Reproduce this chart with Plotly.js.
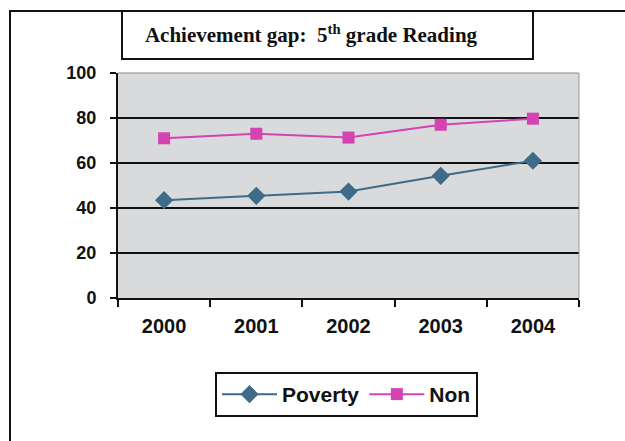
<!DOCTYPE html>
<html>
<head>
<meta charset="utf-8">
<script src="https://cdn.plot.ly/plotly-3.0.1.min.js"></script>
<style>html,body{margin:0;padding:0;background:#fff;}#chart{width:625px;height:441px;}</style>
</head>
<body>
<div id="chart"></div>
<script>
const years = ["2000", "2001", "2002", "2003", "2004"];
const poverty = [43.5, 45.4, 47.3, 54.3, 61];
const non = [71, 73, 71.3, 77, 79.7];
const yTicks = [0, 20, 40, 60, 80, 100];
const titleText = "Achievement gap:  5<sup>th</sup> grade Reading";

const L = 118, R = 579, T = 73, B = 298, W = 625, H = 441;
const px = x => (x - L) / (R - L);
const py = y => (B - y) / (B - T);

const traces = [
  {x: years, y: poverty, name: "Poverty", type: "scatter", mode: "lines+markers",
   line: {color: "#3d6b88", width: 2}, marker: {symbol: "diamond", size: 14, color: "#3d6b88"}},
  {x: years, y: non, name: "Non", type: "scatter", mode: "lines+markers",
   line: {color: "#d443b0", width: 2}, marker: {symbol: "square", size: 12, color: "#d443b0"}}
];

const layout = {
  width: W, height: H,
  margin: {l: L, r: W - R, t: T, b: H - B, pad: 0},
  paper_bgcolor: "#ffffff",
  plot_bgcolor: "#d9dadc",
  font: {family: "Liberation Sans, Arial, sans-serif", color: "#111"},
  title: {text: titleText, font: {family: "Liberation Serif, Times New Roman, serif", size: 21, color: "#111", weight: "bold"},
          xref: "paper", x: px(311), xanchor: "center", yref: "container", y: 1 - 35 / H, yanchor: "middle"},
  xaxis: {type: "category", range: [-0.5, 4.5], tickson: "boundaries", ticks: "outside", ticklen: 7, tickwidth: 2,
          tickcolor: "#111", showline: true, linecolor: "#111", linewidth: 2, showgrid: false,
          tickfont: {size: 20, weight: "bold", color: "#111"}, ticklabelstandoff: 9, fixedrange: true},
  yaxis: {range: [0, 100], tickvals: yTicks, ticks: "outside", ticklen: 6, tickwidth: 2, tickcolor: "#111",
          showline: true, linecolor: "#111", linewidth: 2, showgrid: true, gridcolor: "#111", gridwidth: 2,
          zeroline: false, tickfont: {size: 18, weight: "bold", color: "#111"}, ticklabelstandoff: 10, fixedrange: true},
  showlegend: true,
  legend: {orientation: "h", x: px(346.5), xanchor: "center", y: py(372), yanchor: "top",
           bordercolor: "#111", borderwidth: 2, bgcolor: "#fff", itemwidth: 55,
           font: {size: 21, weight: "bold", color: "#111"}},
  shapes: [
    {type: "rect", xref: "paper", yref: "paper", x0: px(10), x1: px(700), y0: py(11), y1: py(520),
     line: {color: "#111", width: 2}, fillcolor: "rgba(0,0,0,0)", layer: "below"},
    {type: "rect", xref: "paper", yref: "paper", x0: px(122), x1: px(533), y0: py(59), y1: py(11),
     line: {color: "#111", width: 2}, fillcolor: "#fff"},
    {type: "line", xref: "paper", yref: "paper", x0: 0, x1: 1, y0: 1, y1: 1, line: {color: "#888", width: 1}},
    {type: "line", xref: "paper", yref: "paper", x0: 1, x1: 1, y0: 0, y1: 1, line: {color: "#999", width: 1}}
  ]
};

Plotly.newPlot("chart", traces, layout, {displayModeBar: false, staticPlot: true});
</script>
</body>
</html>
